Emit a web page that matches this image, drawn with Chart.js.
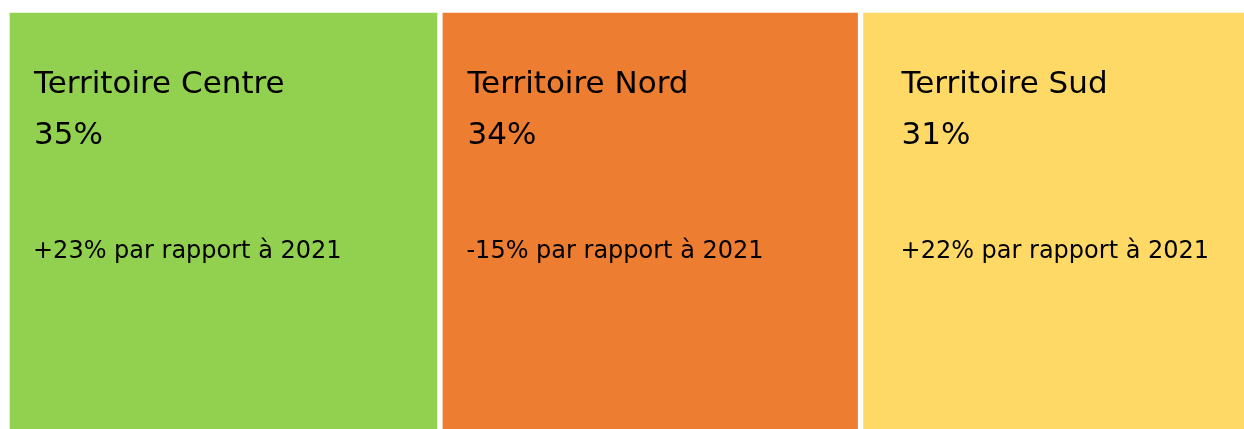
<!DOCTYPE html>
<html>
<head>
<meta charset="utf-8">
<script src="https://cdn.jsdelivr.net/npm/chart.js@4.4.0/dist/chart.umd.min.js"></script>
<style>
  html, body { margin: 0; padding: 0; background: #ffffff; overflow: hidden; }
  #wrap { position: absolute; left: 0; top: 0; width: 1244px; height: 445px; }
</style>
</head>
<body>
<div id="wrap"><canvas id="c" width="1244" height="445"></canvas></div>
<script>
// ---- data ----
const territories = ["Territoire Centre", "Territoire Nord", "Territoire Sud"];
const shares = [35, 34, 31];
const changes = ["+23%", "-15%", "+22%"];
const compareYear = "2021";

// ---- styles ----
const colors = ["#92D050", "#ED7D31", "#FFD966"];
const textInset = [27, 27.5, 41];
const fontFamily = "'DejaVu Sans', sans-serif";

const labelPlugin = {
  id: 'cellLabels',
  afterDatasetsDraw(chart) {
    const ctx = chart.ctx;
    ctx.save();
    ctx.fillStyle = '#000000';
    ctx.textAlign = 'left';
    ctx.textBaseline = 'alphabetic';
    chart.data.datasets.forEach((ds, i) => {
      const el = chart.getDatasetMeta(i).data[0];
      if (!el) return;
      const left = Math.min(el.base, el.x);
      const top = el.y - el.height / 2;
      const tx = left + textInset[i];
      ctx.font = "31px " + fontFamily;
      ctx.fillText(territories[i], tx, top + 83);
      ctx.fillText(shares[i] + "%", tx, top + 134);
      ctx.font = "24px " + fontFamily;
      ctx.fillText(changes[i] + " par rapport à " + compareYear, tx - 1, top + 247.5);
    });
    ctx.restore();
  }
};

const last = territories.length - 1;
new Chart(document.getElementById('c'), {
  type: 'bar',
  data: {
    labels: ["Territoires"],
    datasets: territories.map((t, i) => ({
      label: t,
      data: [shares[i]],
      backgroundColor: colors[i],
      borderColor: '#ffffff',
      borderWidth: { left: 3, top: 3, right: i === last ? 0 : 3, bottom: 0 },
      borderSkipped: false,
      barPercentage: 1,
      categoryPercentage: 1
    }))
  },
  options: {
    indexAxis: 'y',
    responsive: false,
    animation: false,
    layout: { padding: { left: 7, top: 10, right: -2, bottom: 0 } },
    scales: {
      x: { stacked: true, min: 0, max: 100, display: false },
      y: { stacked: true, display: false }
    },
    plugins: {
      legend: { display: false },
      tooltip: { enabled: false }
    }
  },
  plugins: [labelPlugin]
});
</script>
</body>
</html>
